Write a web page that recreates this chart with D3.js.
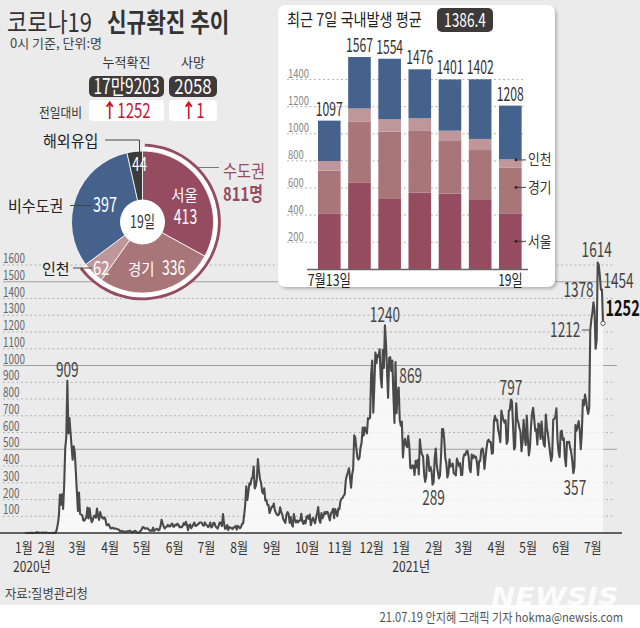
<!DOCTYPE html>
<html><head><meta charset="utf-8">
<script src="https://cdn.jsdelivr.net/npm/d3@7"></script>
<style>body{margin:0;background:#fff}svg{display:block;font-family:'Noto Sans CJK KR','Noto Sans',sans-serif}</style>
</head><body>
<script>
// ---------------- DATA ----------------
// daily new cases from 2020-01-20
const cases2020 = [
1,0,0,0,1,0,1,1,0,0,2,5,
1,3,0,1,2,4,1,0,3,1,0,0,0,0,0,1,1,1,20,53,100,229,169,231,144,284,505,571,909,
595,686,600,516,438,518,483,367,248,131,242,114,110,107,76,74,84,93,152,87,147,98,64,76,100,104,91,146,105,78,125,
101,89,86,94,81,47,47,53,39,27,30,32,25,27,27,22,22,18,8,13,9,11,8,6,10,10,10,14,9,4,
9,6,13,8,3,2,4,12,18,34,35,27,26,29,27,19,13,15,13,32,12,20,23,25,16,19,40,79,58,39,27,
35,38,49,39,39,51,57,38,38,50,45,56,48,34,37,34,43,59,49,67,48,17,46,51,28,39,51,62,42,43,
51,54,63,63,61,46,44,63,50,45,35,44,62,33,39,61,60,39,34,26,45,63,59,41,113,58,25,28,48,18,36,
31,30,23,34,33,43,20,43,36,28,34,54,56,103,166,279,197,246,297,288,324,332,397,266,280,320,441,371,323,299,248,
235,267,195,198,168,167,119,136,156,155,176,136,121,109,106,113,153,126,110,82,70,61,110,125,114,61,95,50,38,113,
77,63,75,64,73,75,114,69,54,72,58,97,102,84,110,47,73,91,76,58,91,121,155,77,61,119,88,103,125,114,127,
124,97,75,118,125,145,89,143,126,100,146,143,191,205,208,223,230,313,343,363,386,330,271,349,382,583,569,504,450,438,
451,511,540,629,583,631,615,594,686,682,689,950,1030,718,880,1078,1014,1062,1053,1097,926,869,1092,985,1240,1132,970,807,1045,1050,967
];
const cases2021 = [
1029,824,657,1020,715,840,869,674,641,665,451,537,562,524,513,580,520,389,386,404,400,346,431,392,437,349,559,497,469,458,355,
305,336,467,451,370,393,372,289,303,444,504,403,362,326,344,457,621,621,561,448,416,332,357,440,396,406,415,356,
355,344,444,424,398,416,346,346,446,470,465,488,490,459,382,363,469,445,463,452,456,415,346,428,430,494,505,482,382,447,506,
551,557,543,543,473,478,668,700,671,677,614,587,542,731,698,673,658,672,532,549,731,735,797,785,644,499,512,775,679,661,
627,606,488,541,676,574,525,701,564,463,511,635,715,747,681,610,619,528,654,646,561,666,585,530,516,707,629,587,533,480,430,
459,677,681,695,744,556,485,454,602,611,556,565,452,399,545,540,545,507,482,429,357,395,645,610,634,668,614,501,595,794,
762,826,794,743,711,746,1212,1275,1316,1378,1324,1100,1150,1614,1600,1536,1452,1454,1252
];
const startDate = new Date(2020, 0, 20);
const monthLabels = ["1월","2월","3월","4월","5월","6월","7월","8월","9월","10월","11월","12월","1월","2월","3월","4월","5월","6월","7월"];
const yearLabels = ["2020년","2021년"];
const yTicks = [100,200,300,400,500,600,700,800,900,1000,1100,1200,1300,1400,1500,1600];
const annotatedDates = ["2020-02-29","2020-12-25","2021-01-07","2021-02-08","2021-04-23","2021-06-21","2021-07-07","2021-07-10","2021-07-14","2021-07-18","2021-07-19"];

const headerLabels = ["누적확진","사망"];
const headerValues = ["17만9203","2058"];
const headerDelta = ["1252","1"];

const regionNames = ["서울","경기","인천","비수도권","해외유입"];
const regionCases = [413,336,62,397,44];

const barDays = ["7월13일","14일","15일","16일","17일","18일","19일"];
const barDomestic = [1097,1567,1554,1476,1401,1402,1208];
const barSeoul = [413,638,519,565,558,517,413];
const barGyeonggi = [315,450,497,456,389,363,336];
const barIncheon = [71,99,91,93,76,82,62];
const barTicks = [200,400,600,800,1000,1200,1400];
const avg7 = "1386.4";

// ---------------- HELPERS ----------------
const W = 640, H = 628;
const svg = d3.select("body").append("svg").attr("width", W).attr("height", H);
function T(parent, x, y, str, o = {}) {
  return parent.append("text")
    .attr("transform", `translate(${x},${y}) scale(${o.sx ?? 1},1)`)
    .attr("text-anchor", o.anchor || "start")
    .attr("font-size", o.size || 13)
    .attr("font-weight", o.weight || 400)
    .attr("fill", o.fill || "#333")
    .text(str);
}
const C = {seoul:"#964c60", gg:"#a87678", ic:"#bf979b", non:"#45628c", abroad:"#3c3a3a", dark:"#3e3a39"};

// background
svg.append("rect").attr("width", W).attr("height", 605).attr("fill", "#ebebeb");
svg.append("rect").attr("y", 605).attr("width", W).attr("height", H - 605).attr("fill", "#fff");

const defs = svg.append("defs");
const f = defs.append("filter").attr("id", "sh").attr("x", "-10%").attr("y", "-10%").attr("width", "120%").attr("height", "120%");
f.append("feDropShadow").attr("dx", 2).attr("dy", 2).attr("stdDeviation", 1.6).attr("flood-color", "#888").attr("flood-opacity", 0.55);

// ---------------- MAIN LINE CHART ----------------
const series = cases2020.concat(cases2021).map((v, i) => ({date: d3.timeDay.offset(startDate, i), v}));
const x = d3.scaleTime().domain([startDate, series[series.length - 1].date]).range([25, 603]);
const y = d3.scaleLinear().domain([0, 1600]).range([533, 265]);

const grid = svg.append("g");
yTicks.forEach(t => {
  const solid = t % 500 === 0;
  grid.append("line").attr("x1", 3).attr("x2", solid ? 617 : 613).attr("y1", y(t)).attr("y2", y(t))
    .attr("stroke", solid ? "#a0a0a0" : "#b3b3b3").attr("stroke-width", 1)
    .attr("stroke-dasharray", solid ? null : "2,2.5");
  T(grid, 3, y(t) - 2, t, {size: 13, sx: 0.76, fill: "#666"});
});

svg.append("path").datum(series)
  .attr("d", d3.area().x(d => x(d.date)).y0(y(0)).y1(d => y(d.v)))
  .attr("fill", "#fbfbfb").attr("opacity", 0.8);
svg.append("path").datum(series)
  .attr("d", d3.line().x(d => x(d.date)).y(d => y(d.v)))
  .attr("fill", "none").attr("stroke", "#4a4a4a").attr("stroke-width", 2.1).attr("stroke-linejoin", "round");
const last = series[series.length - 1];
svg.append("circle").attr("cx", x(last.date)).attr("cy", y(last.v)).attr("r", 2.2)
  .attr("fill", "#fff").attr("stroke", "#555").attr("stroke-width", 1);

// x axis
svg.append("line").attr("x1", 0).attr("x2", 622).attr("y1", y(0)).attr("y2", y(0)).attr("stroke", "#333").attr("stroke-width", 1.5);
const months = d3.timeMonth.range(new Date(2020, 0, 1), new Date(2021, 6, 2));
months.forEach((m, i) => {
  T(svg, Math.max(15, x(m)), 553, monthLabels[i], {size: 15, sx: 0.8, fill: "#333"});
});
T(svg, 13, 572, yearLabels[0], {size: 15, sx: 0.8, fill: "#333"});
T(svg, x(new Date(2021, 0, 1)), 572, yearLabels[1], {size: 15, sx: 0.8, fill: "#333"});

// annotations
const annLayout = {
  "2020-02-29": {dx: 0, dy: -4, a: "middle"},
  "2020-12-25": {dx: 0, dy: -3.5, a: "middle"},
  "2021-01-07": {dx: 12, dy: -4, a: "middle"},
  "2021-02-08": {dx: 1, dy: 20, a: "middle"},
  "2021-04-23": {dx: 0, dy: -4.5, a: "middle"},
  "2021-06-21": {dx: 1.5, dy: 22, a: "middle"},
  "2021-07-07": {dx: -10, dy: 7, a: "end", leader: true},
  "2021-07-10": {dx: -15, dy: -5, a: "middle"},
  "2021-07-14": {dx: -1, dy: -5.5, a: "middle"},
  "2021-07-18": {dx: 1.5, dy: -1, a: "start"},
  "2021-07-19": {dx: 2.5, dy: -7, a: "start", big: true}
};
const parse = d3.timeParse("%Y-%m-%d");
annotatedDates.forEach(ds => {
  const dt = parse(ds);
  const p = series.find(d => +d.date === +dt);
  const L = annLayout[ds];
  const px = x(p.date), py = y(p.v);
  if (L.leader) svg.append("line").attr("x1", px - 8.5).attr("x2", px - 1).attr("y1", py).attr("y2", py).attr("stroke", "#555").attr("stroke-width", 1);
  T(svg, px + L.dx, py + L.dy, p.v, L.big ? {size: 22, weight: 700, sx: 0.66, fill: "#111", anchor: L.a}
                                         : {size: 20, sx: 0.68, fill: "#444", anchor: L.a});
});

// ---------------- HEADER ----------------
T(svg, 7, 32, "코로나19", {size: 26, sx: 0.845, fill: "#333"});
T(svg, 107, 32, "신규확진 추이", {size: 26, weight: 700, sx: 0.82, fill: "#333"});
T(svg, 10, 48, "0시 기준, 단위:명", {size: 13, fill: "#444"});
const boxX = [[89, 75], [169, 48]];
headerLabels.forEach((l, i) => {
  const [bx0, bw] = boxX[i];
  const cx = bx0 + bw / 2;
  T(svg, cx, 67, l, {size: 13, anchor: "middle", fill: "#333"});
  svg.append("rect").attr("x", bx0).attr("y", 76).attr("width", bw).attr("height", 21).attr("rx", 5).attr("fill", C.dark);
  T(svg, cx, 94, headerValues[i], {size: 21, sx: i === 0 ? 0.74 : 0.8, anchor: "middle", fill: "#fff"});
  svg.append("rect").attr("x", bx0).attr("y", 100).attr("width", bw).attr("height", 21).attr("rx", 4).attr("fill", "#fff");
  const dt = T(svg, cx, 118, "", {size: 20, sx: 0.75, anchor: "middle", fill: "#c4122f"});
  dt.append("tspan").attr("font-weight", 700).text("↑");
  dt.append("tspan").text(headerDelta[i]);
});
T(svg, 39, 117, "전일대비", {size: 13, sx: 0.9, fill: "#333"});

// ---------------- DONUT ----------------
const dcx = 142.5, dcy = 222;
const dg = svg.append("g").attr("transform", `translate(${dcx},${dcy})`);
const pie = d3.pie().sort(null).value(d => d)(regionCases);
const dColors = [C.seoul, C.gg, C.ic, C.non, C.abroad];
const capEnd = pie[2].endAngle;
dg.append("path").attr("d", d3.arc()({innerRadius: 70, outerRadius: 75.5, startAngle: 0, endAngle: capEnd})).attr("fill", "#fff");
dg.append("path").attr("d", d3.arc()({innerRadius: 75.5, outerRadius: 78.3, startAngle: 0.03, endAngle: capEnd})).attr("fill", C.seoul);
dg.selectAll("path.s").data(pie).join("path").attr("class", "s")
  .attr("d", d3.arc().innerRadius(0).outerRadius(71))
  .attr("fill", (d, i) => dColors[i]).attr("stroke", "#fff").attr("stroke-width", 0.8);
dg.append("circle").attr("r", 22.5).attr("fill", "#fff");
T(svg, dcx, 228, "19일", {size: 17, sx: 0.72, anchor: "middle", fill: "#333"});

T(svg, 184.5, 201, regionNames[0], {size: 16, sx: 0.9, anchor: "middle", fill: "#fff"});
T(svg, 185.5, 224, regionCases[0], {size: 20, sx: 0.7, anchor: "middle", fill: "#fff"});
T(svg, 128, 275, regionNames[1], {size: 16, sx: 0.9, fill: "#fff"});
T(svg, 162, 275, regionCases[1], {size: 20, sx: 0.7, fill: "#fff"});
T(svg, 93, 275, regionCases[2], {size: 19, sx: 0.78, fill: "#fff"});
T(svg, 93, 212, regionCases[3], {size: 20, sx: 0.72, fill: "#fff"});
T(svg, 139.5, 171, regionCases[4], {size: 19, sx: 0.72, anchor: "middle", fill: "#fff"});

T(svg, 42, 275, regionNames[2], {size: 16, sx: 0.94, fill: "#222"});
T(svg, 8, 212, regionNames[3], {size: 16, sx: 0.94, fill: "#222"});
T(svg, 43, 147, regionNames[4], {size: 16, sx: 0.94, fill: "#222"});
const lead = (pts) => svg.append("path").attr("d", d3.line()(pts)).attr("fill", "none").attr("stroke", "#444").attr("stroke-width", 1);
lead([[73, 268], [92, 268]]);
lead([[70, 205.5], [92, 205.5]]);
lead([[105, 140], [139.5, 140], [139.5, 154]]);
svg.append("line").attr("x1", 198).attr("x2", 219).attr("y1", 167.5).attr("y2", 167.5).attr("stroke", "#777").attr("stroke-width", 1);
T(svg, 223, 178, "수도권", {size: 18, sx: 0.85, fill: C.seoul});
T(svg, 223, 201, d3.sum(regionCases.slice(0, 3)) + "명", {size: 19, weight: 700, sx: 0.78, fill: C.seoul});

// ---------------- INSET BAR PANEL ----------------
svg.append("rect").attr("x", 278).attr("y", 5).attr("width", 277).attr("height", 282).attr("rx", 7)
  .attr("fill", "#fff").attr("filter", "url(#sh)");
T(svg, 287, 26, "최근 7일 국내발생 평균", {size: 17, sx: 0.835, fill: "#222"});
svg.append("rect").attr("x", 437).attr("y", 8).attr("width", 56).attr("height", 24).attr("rx", 5).attr("fill", C.dark);
T(svg, 465, 27, avg7, {size: 19, sx: 0.72, anchor: "middle", fill: "#fff"});

const bxs = d3.scaleBand().domain(d3.range(barDays.length)).range([314.2, 525.4]).paddingInner(0.25).paddingOuter(0.125);
const bys = d3.scaleLinear().domain([0, 1400]).range([269.3, 79.6]);
barTicks.forEach(t => {
  svg.append("line").attr("x1", 287).attr("x2", 525).attr("y1", bys(t)).attr("y2", bys(t))
    .attr("stroke", "#b0b0b0").attr("stroke-dasharray", "2,2.5");
  T(svg, 288, bys(t) - 1.5, t, {size: 12.5, sx: 0.76, fill: "#888"});
});
const barRows = barDays.map((d, i) => ({i, seoul: barSeoul[i], gg: barGyeonggi[i], ic: barIncheon[i],
  non: barDomestic[i] - barSeoul[i] - barGyeonggi[i] - barIncheon[i]}));
const keys = ["seoul", "gg", "ic", "non"];
const stack = d3.stack().keys(keys)(barRows);
stack.forEach(layer => {
  svg.append("g").selectAll("rect").data(layer).join("rect")
    .attr("x", d => bxs(d.data.i)).attr("width", bxs.bandwidth())
    .attr("y", d => bys(d[1])).attr("height", d => bys(d[0]) - bys(d[1]))
    .attr("fill", C[layer.key]);
});
svg.append("line").attr("x1", 307).attr("x2", 528).attr("y1", 269.5).attr("y2", 269.5).attr("stroke", "#666").attr("stroke-width", 1.5);
barDomestic.forEach((v, i) => {
  T(svg, bxs(i) + bxs.bandwidth() / 2, bys(v) - 5, v, {size: 19, sx: 0.64, anchor: "middle", fill: "#333"});
});
T(svg, bxs(0) + bxs.bandwidth() / 2, 285.5, barDays[0], {size: 16, sx: 0.77, anchor: "middle", fill: "#222"});
T(svg, bxs(6) + bxs.bandwidth() / 2, 285.5, barDays[6], {size: 16, sx: 0.75, anchor: "middle", fill: "#222"});
// legend labels on last bar
const lastRow = barRows[6];
const legendPos = [["인천", bys(lastRow.seoul + lastRow.gg + lastRow.ic) + 0.5], ["경기", bys(lastRow.seoul + lastRow.gg * 0.57)], ["서울", bys(lastRow.seoul / 2)]];
legendPos.forEach(([name, yy]) => {
  svg.append("circle").attr("cx", 516).attr("cy", yy).attr("r", 1.4).attr("fill", "#222");
  svg.append("line").attr("x1", 516).attr("x2", 526).attr("y1", yy).attr("y2", yy).attr("stroke", "#333").attr("stroke-width", 0.9);
  T(svg, 528, yy + 5.5, name, {size: 14.5, sx: 0.88, fill: "#333"});
});

// ---------------- FOOTER ----------------
T(svg, 5, 598, "자료:질병관리청", {size: 13, sx: 0.95, fill: "#444"});
svg.append("text").attr("transform", "translate(555,605) scale(1.15,1)").attr("text-anchor", "middle")
  .attr("font-family", "'DejaVu Sans',sans-serif").attr("font-size", 25).attr("font-weight", 700).attr("font-style", "italic")
  .attr("fill", "#fff").attr("opacity", 0.85).text("NEWSIS");
T(svg, 623, 622, "21.07.19 안지혜 그래픽 기자 hokma@newsis.com", {size: 13, sx: 0.86, anchor: "end", fill: "#555"});
</script>
</body></html>
